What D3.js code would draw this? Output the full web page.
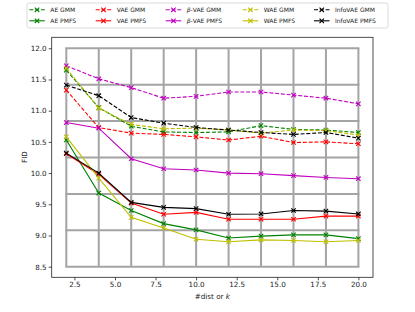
<html lang="en">
  <head>
    <meta charset="utf-8">
    <script src="https://d3js.org/d3.v7.js"></script>
    <style>
      body { margin: 0; background: #fff; }
      text { font-family: "DejaVu Sans", sans-serif; fill: #222; }
    </style>
  </head>
  <body>
    <svg id="chart" width="415" height="312"></svg>
    <script>
      // values
      var ks = [2, 4, 6, 8, 10, 12, 14, 16, 18, 20];
      var aeGmm    = [11.65, 11.05, 10.75, 10.66, 10.65, 10.66, 10.76, 10.70, 10.69, 10.65];
      var aePmfs   = [10.53, 9.68, 9.40, 9.19, 9.09, 8.96, 8.99, 9.01, 9.01, 8.95];
      var vaeGmm   = [11.33, 10.73, 10.64, 10.62, 10.58, 10.53, 10.59, 10.49, 10.50, 10.47];
      var vaePmfs  = [10.31, 9.98, 9.52, 9.34, 9.37, 9.26, 9.26, 9.26, 9.31, 9.31];
      var betaGmm  = [11.72, 11.51, 11.37, 11.20, 11.23, 11.30, 11.30, 11.25, 11.20, 11.11];
      var betaPmfs = [10.81, 10.72, 10.23, 10.07, 10.05, 10.00, 9.99, 9.96, 9.93, 9.91];
      var waeGmm   = [11.68, 11.04, 10.78, 10.71, 10.72, 10.69, 10.64, 10.69, 10.68, 10.61];
      var waePmfs  = [10.58, 9.92, 9.29, 9.12, 8.94, 8.90, 8.93, 8.92, 8.90, 8.92];
      var infoGmm  = [11.41, 11.24, 10.89, 10.80, 10.73, 10.69, 10.65, 10.62, 10.65, 10.56];
      var infoPmfs = [10.32, 10.00, 9.53, 9.45, 9.43, 9.34, 9.345, 9.40, 9.39, 9.345];

      var xTicks = [2.5, 5.0, 7.5, 10.0, 12.5, 15.0, 17.5, 20.0];
      var yTicks = [8.5, 9.0, 9.5, 10.0, 10.5, 11.0, 11.5, 12.0];
      // the odd grey table drawn inside the axes
      var gridRows = [12.0, 11.4167, 10.8333, 10.25, 9.6667, 9.0833, 8.5];

      var series = [
        {model: "AE", kind: "GMM", values: aeGmm, color: "#008000"},
        {model: "AE", kind: "PMFS", values: aePmfs, color: "#008000"},
        {model: "VAE", kind: "GMM", values: vaeGmm, color: "#ff0000"},
        {model: "VAE", kind: "PMFS", values: vaePmfs, color: "#ff0000"},
        {model: "β-VAE", kind: "GMM", values: betaGmm, color: "#bf00bf"},
        {model: "β-VAE", kind: "PMFS", values: betaPmfs, color: "#bf00bf"},
        {model: "WAE", kind: "GMM", values: waeGmm, color: "#bfbf00"},
        {model: "WAE", kind: "PMFS", values: waePmfs, color: "#bfbf00"},
        {model: "InfoVAE", kind: "GMM", values: infoGmm, color: "#000000"},
        {model: "InfoVAE", kind: "PMFS", values: infoPmfs, color: "#000000"}
      ];

      var svg = d3.select("svg#chart");
      svg.append("rect").attr("width", 415).attr("height", 312).attr("fill", "#fff");

      var margin = {top: 37.3, right: 42, bottom: 34.7, left: 51.7};
      var width = 415 - margin.left - margin.right;
      var height = 312 - margin.top - margin.bottom;

      var g = svg.append("g").attr("transform", `translate(${margin.left}, ${margin.top})`);

      var xScale = d3.scaleLinear().domain([1.1, 20.9]).range([0, width]);
      var yScale = d3.scaleLinear().domain([8.33, 12.176]).range([height, 0]);

      // grid
      var grid = g.append("g").attr("stroke", "#a4a4a4").attr("stroke-width", 2);
      grid.selectAll("line.v").data(ks).enter().append("line")
        .attr("x1", d => xScale(d)).attr("x2", d => xScale(d))
        .attr("y1", yScale(12.0)).attr("y2", yScale(8.5));
      grid.selectAll("line.h").data(gridRows).enter().append("line")
        .attr("x1", xScale(ks[0]) - 1).attr("x2", xScale(ks[ks.length - 1]) + 1)
        .attr("y1", d => yScale(d)).attr("y2", d => yScale(d));

      var line = d3.line()
        .x((d, i) => xScale(ks[i]))
        .y(d => yScale(d));

      var cross = function(sel, s) {
        sel.attr("d", "M-2.2,-2.2L2.2,2.2M-2.2,2.2L2.2,-2.2")
          .attr("stroke", s.color).attr("stroke-width", 1.1).attr("fill", "none");
      };

      series.forEach(function(s) {
        var dash = s.kind === "GMM" ? "4,1.8" : null;
        g.append("path")
          .datum(s.values)
          .attr("d", line)
          .attr("fill", "none")
          .attr("stroke", s.color)
          .attr("stroke-width", 1.1)
          .attr("stroke-dasharray", dash);
        g.append("g").selectAll("path")
          .data(s.values)
          .enter()
          .append("path")
          .attr("transform", (d, i) => `translate(${xScale(ks[i])}, ${yScale(d)})`)
          .each(function() { cross(d3.select(this), s); });
      });

      // axes
      var xAxis = g.append("g")
        .attr("transform", `translate(0, ${height})`)
        .call(d3.axisBottom(xScale).tickValues(xTicks).tickFormat(d3.format(".1f"))
          .tickSize(3).tickPadding(2).tickSizeOuter(0));
      var yAxis = g.append("g")
        .call(d3.axisLeft(yScale).tickValues(yTicks).tickFormat(d3.format(".1f"))
          .tickSize(3).tickPadding(2).tickSizeOuter(0));
      [xAxis, yAxis].forEach(function(a) {
        a.select(".domain").remove();
        a.selectAll("line").attr("stroke", "#222").attr("stroke-width", 0.8);
        a.selectAll("text").attr("font-family", "DejaVu Sans").attr("font-size", 7.2).attr("fill", "#222");
      });

      g.append("rect")
        .attr("width", width).attr("height", height)
        .attr("fill", "none").attr("stroke", "#222").attr("stroke-width", 0.8);

      svg.append("text")
        .attr("x", margin.left + width / 2).attr("y", 299)
        .attr("text-anchor", "middle").attr("font-size", 7.2)
        .html('#dist or <tspan font-style="italic">k</tspan>');

      svg.append("text")
        .attr("transform", "translate(26.5, 157) rotate(-90)")
        .attr("text-anchor", "middle").attr("font-size", 7.2)
        .text("FID");

      // legend, 2 rows x 5 columns
      var legend = svg.append("g");
      legend.append("rect")
        .attr("x", 27).attr("y", 3).attr("width", 361).attr("height", 25)
        .attr("rx", 2).attr("fill", "#fff").attr("stroke", "#d0d0d0").attr("stroke-width", 0.8);
      var colX = [29.3, 95.7, 165.7, 242.7, 314];
      var rowY = [9.8, 20.8];
      series.forEach(function(s, i) {
        var cx = colX[Math.floor(i / 2)], cy = rowY[i % 2];
        legend.append("line")
          .attr("x1", cx).attr("x2", cx + 15.5).attr("y1", cy).attr("y2", cy)
          .attr("stroke", s.color).attr("stroke-width", 1.1)
          .attr("stroke-dasharray", s.kind === "GMM" ? "4,1.8" : null);
        legend.append("path")
          .attr("transform", `translate(${cx + 7.75}, ${cy})`)
          .call(cross, s);
        var t = legend.append("text")
          .attr("x", cx + 21).attr("y", cy + 2.2).attr("font-size", 6);
        if (s.model === "β-VAE") {
          t.append("tspan").attr("font-style", "italic").text("β");
          t.append("tspan").text("-VAE " + s.kind);
        } else {
          t.text(s.model + " " + s.kind);
        }
      });
    </script>
  </body>
</html>
